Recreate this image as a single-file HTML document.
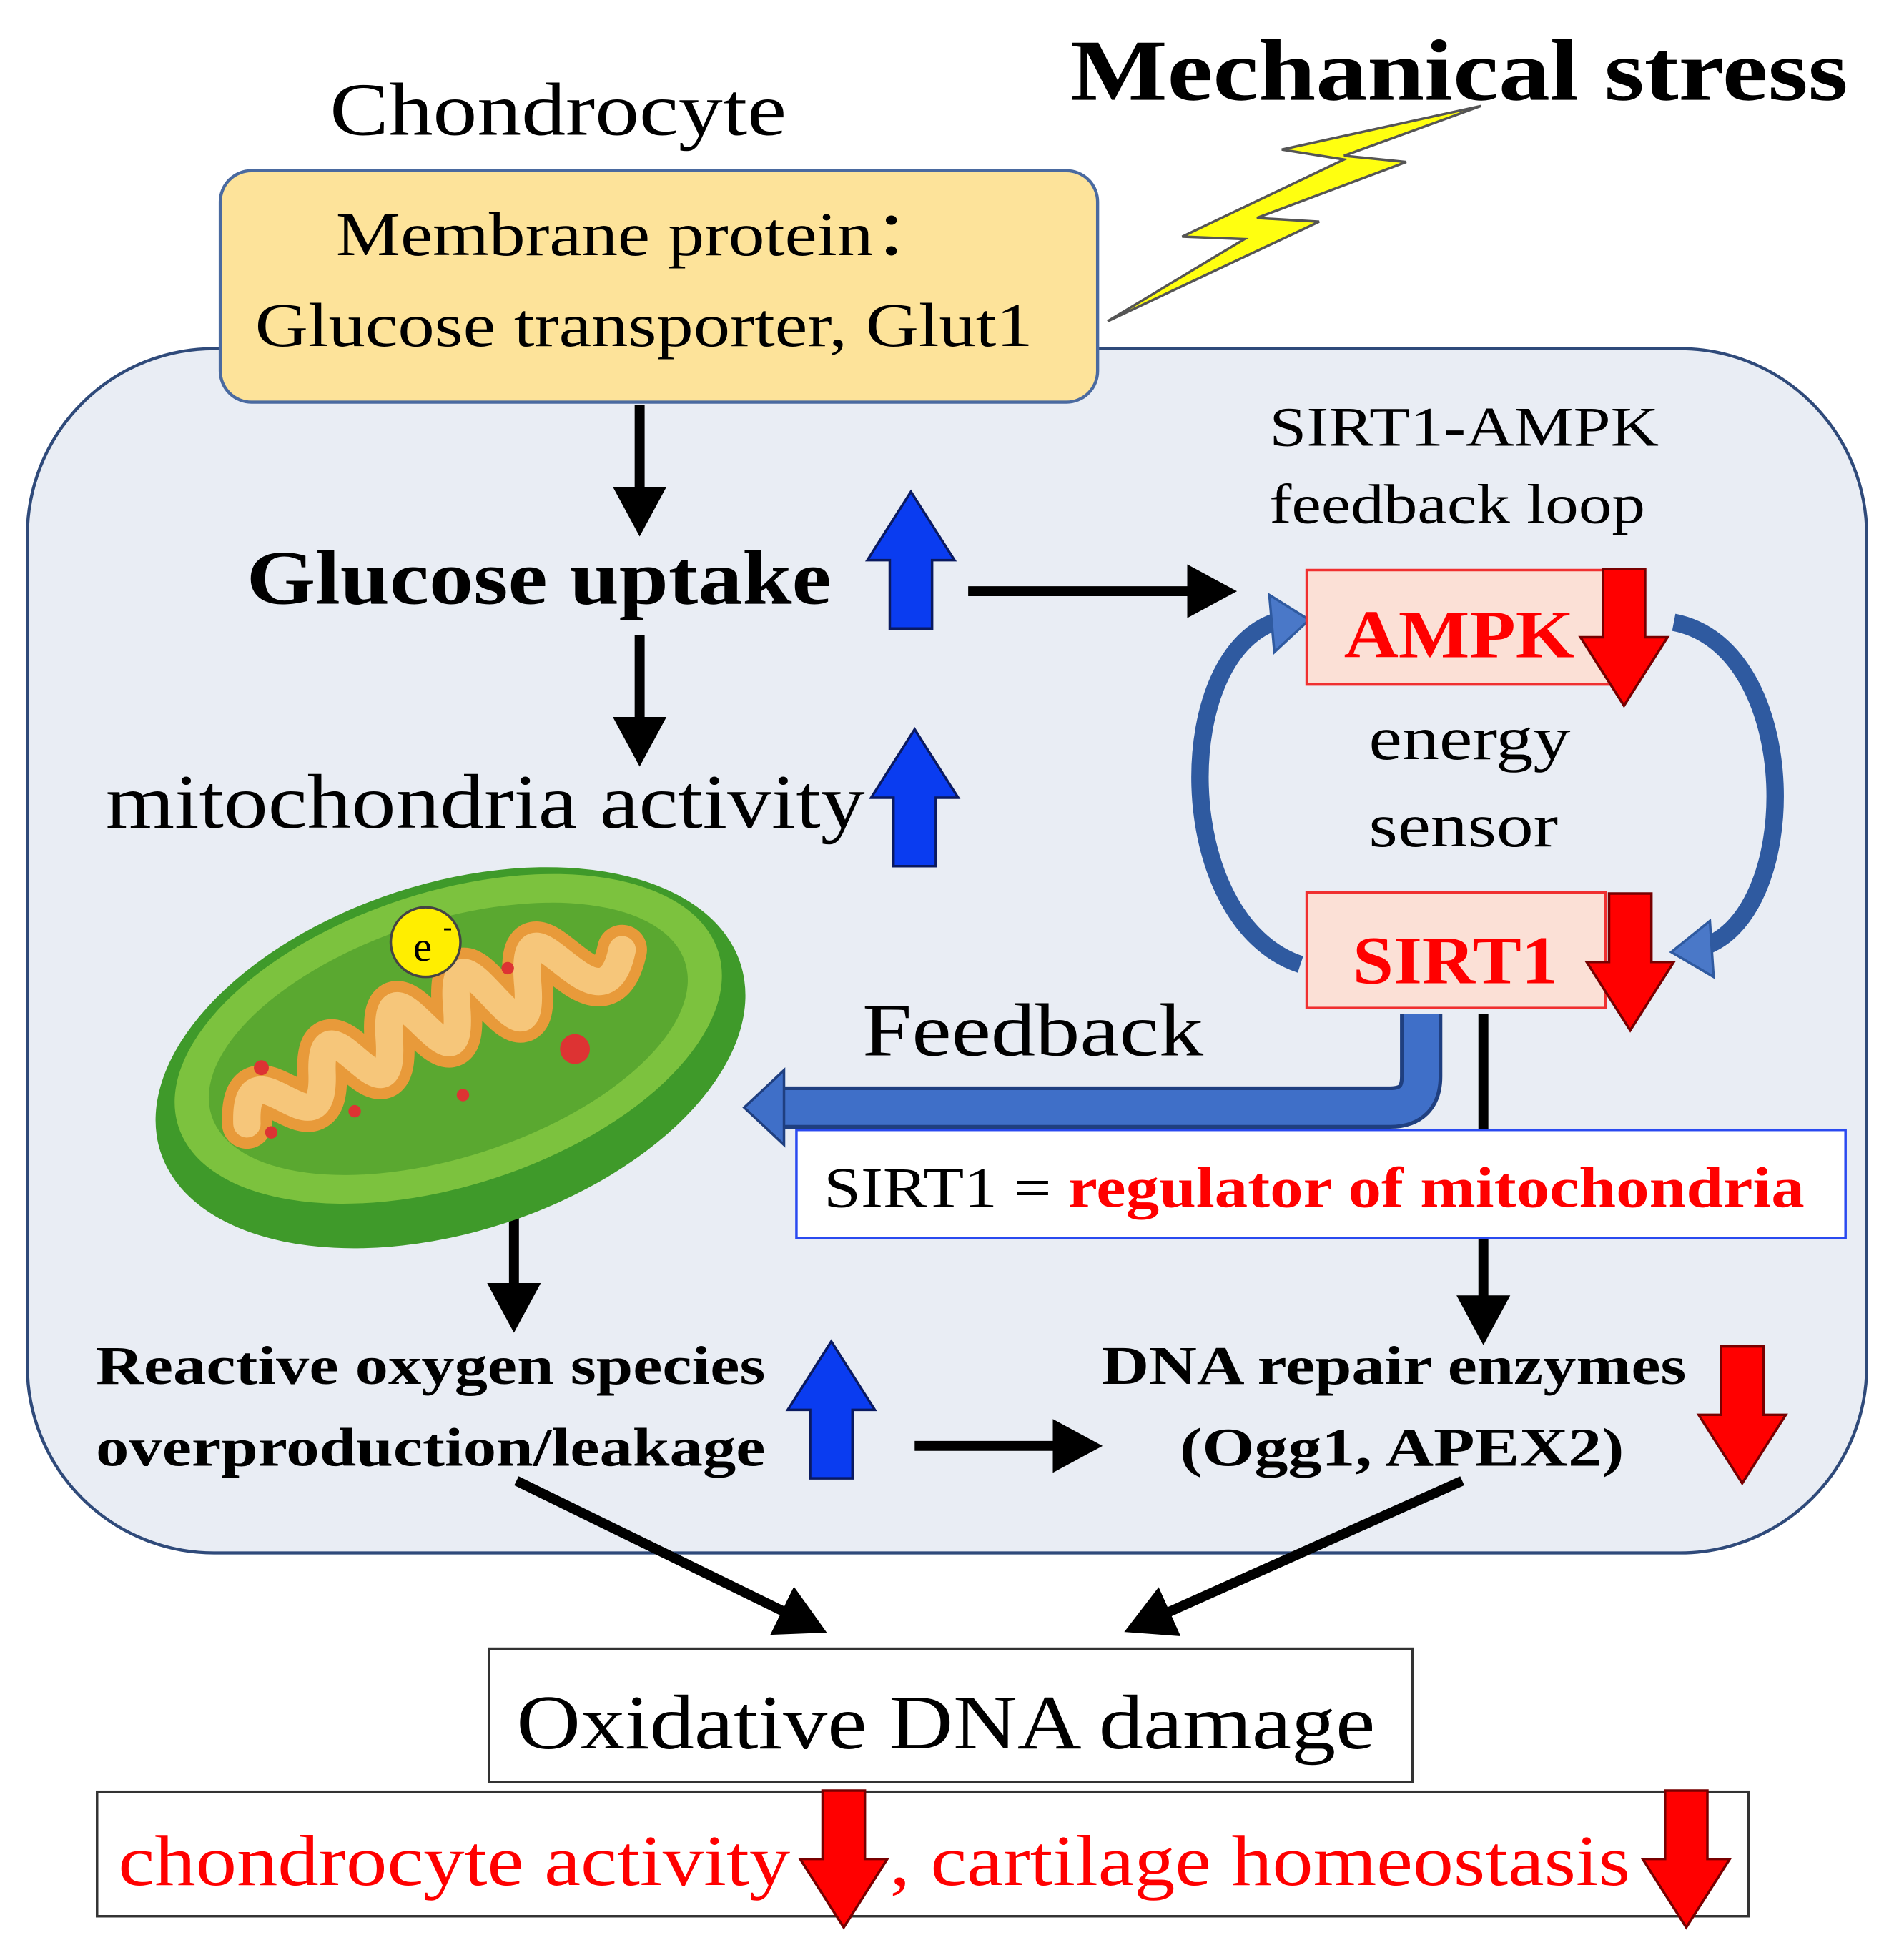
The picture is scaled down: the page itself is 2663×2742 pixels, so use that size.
<!DOCTYPE html>
<html><head><meta charset="utf-8"><style>html,body{margin:0;padding:0;background:#fff}svg{display:block}</style></head>
<body>
<svg width="2663" height="2742" viewBox="0 0 1530 1575" xmlns="http://www.w3.org/2000/svg" font-family="'Liberation Serif', serif">
<defs>
<marker id="ah" markerWidth="6" markerHeight="6" refX="3" refY="3" orient="auto" markerUnits="strokeWidth"><path d="M0,0.3 L5,3 L0,5.7 Z" fill="#000"/></marker>
<g id="bu"><path d="M-17,55 L-17,0 L-35,0 L0,-55 L35,0 L17,0 L17,55 Z" fill="#0a3cf0" stroke="#0a1a60" stroke-width="2"/></g>
<g id="rd"><path d="M-17,-55 L-17,0 L-35,0 L0,55 L35,0 L17,0 L17,-55 Z" fill="#f00" stroke="#700" stroke-width="2"/></g>
</defs>
<rect x="22" y="280" width="1478" height="968" rx="150" fill="#e9edf4" stroke="#2f4a7a" stroke-width="2.5"/>
<text x="265" y="108" font-size="60" textLength="367" lengthAdjust="spacingAndGlyphs">Chondrocyte</text>
<text x="860" y="80" font-size="70" font-weight="bold" textLength="625" lengthAdjust="spacingAndGlyphs">Mechanical stress</text>
<polygon points="1190,85 1030,120 1080,128 950,190 1000,192 890,258 1060,178 1010,175 1130,130 1080,125" fill="#ffff10" stroke="#555" stroke-width="2"/>
<rect x="177" y="137" width="705" height="186" rx="25" fill="#fde39a" stroke="#4a6aa0" stroke-width="2.5"/>
<text x="270" y="205" font-size="50" textLength="490" lengthAdjust="spacingAndGlyphs">Membrane protein：</text>
<text x="205" y="278" font-size="50" textLength="625" lengthAdjust="spacingAndGlyphs">Glucose transporter, Glut1</text>
<g stroke="#000" stroke-width="8" fill="none" marker-end="url(#ah)">
<line x1="514" y1="325" x2="514" y2="415"/>
<line x1="514" y1="510" x2="514" y2="600"/>
<line x1="778" y1="475" x2="978" y2="475"/>
<line x1="1192" y1="815" x2="1192" y2="1065"/>
<line x1="413" y1="960" x2="413" y2="1055"/>
<line x1="735" y1="1162" x2="870" y2="1162"/>
<line x1="415" y1="1190" x2="650" y2="1305"/>
<line x1="1175" y1="1190" x2="918" y2="1305"/>
</g>
<text x="198" y="485" font-size="62" font-weight="bold" textLength="470" lengthAdjust="spacingAndGlyphs">Glucose uptake</text>
<use href="#bu" x="732" y="450"/>
<text x="1020" y="358" font-size="45" textLength="313" lengthAdjust="spacingAndGlyphs">SIRT1-AMPK</text>
<text x="1020" y="420" font-size="45" textLength="302" lengthAdjust="spacingAndGlyphs">feedback loop</text>
<path d="M1045,775 C940,740 940,520 1030,498" fill="none" stroke="#2f5aa0" stroke-width="14"/>
<path d="M1020,478 L1052,498 L1024,524 Z" fill="#4a78c8" stroke="#2f5aa0" stroke-width="2"/>
<path d="M1345,500 C1450,520 1450,740 1365,762" fill="none" stroke="#2f5aa0" stroke-width="14"/>
<path d="M1374,740 L1343,765 L1377,785 Z" fill="#4a78c8" stroke="#2f5aa0" stroke-width="2"/>
<rect x="1050" y="458" width="250" height="92" fill="#fbe0d6" stroke="#f03030" stroke-width="2"/>
<text x="1080" y="528" font-size="55" font-weight="bold" fill="#f00" textLength="185" lengthAdjust="spacingAndGlyphs">AMPK</text>
<use href="#rd" x="1305" y="512"/>
<text x="1100" y="610" font-size="50" textLength="162" lengthAdjust="spacingAndGlyphs">energy</text>
<text x="1100" y="680" font-size="50" textLength="152" lengthAdjust="spacingAndGlyphs">sensor</text>
<rect x="1050" y="717" width="240" height="93" fill="#fbe0d6" stroke="#f03030" stroke-width="2"/>
<text x="1087" y="790" font-size="55" font-weight="bold" fill="#f00" textLength="165" lengthAdjust="spacingAndGlyphs">SIRT1</text>
<use href="#rd" x="1310" y="773"/>
<text x="85" y="665" font-size="62" textLength="610" lengthAdjust="spacingAndGlyphs">mitochondria activity</text>
<use href="#bu" x="735" y="641"/>
<g transform="rotate(-18 362 850)">
<ellipse cx="362" cy="850" rx="245" ry="140" fill="#3f9a2a"/>
<ellipse cx="365" cy="835" rx="228" ry="118" fill="#7cc23e"/>
<ellipse cx="365" cy="835" rx="200" ry="95" fill="#5aa830"/>
<path d="M190,850 C210,780 240,900 260,830 C280,760 300,900 320,820 C340,740 360,900 380,810 C400,730 420,900 440,810 C460,730 480,880 520,810" fill="none" stroke="#e89a3a" stroke-width="40" stroke-linecap="round"/>
<path d="M190,850 C210,780 240,900 260,830 C280,760 300,900 320,820 C340,740 360,900 380,810 C400,730 420,900 440,810 C460,730 480,880 520,810" fill="none" stroke="#f6c67a" stroke-width="22" stroke-linecap="round"/>
</g>
<circle cx="210" cy="858" r="6" fill="#d33"/><circle cx="285" cy="893" r="5" fill="#d33"/><circle cx="372" cy="880" r="5" fill="#d33"/><circle cx="408" cy="778" r="5" fill="#d33"/><circle cx="462" cy="843" r="12" fill="#d33"/><circle cx="218" cy="910" r="5" fill="#d33"/>
<circle cx="342" cy="757" r="28" fill="#ffee00" stroke="#444" stroke-width="2"/>
<text x="332" y="772" font-size="34">e</text><text x="356" y="752" font-size="22">-</text>
<text x="693" y="848" font-size="60" textLength="274" lengthAdjust="spacingAndGlyphs">Feedback</text>
<path d="M1142,815 L1142,865 Q1142,890 1117,890 L630,890" fill="none" stroke="#1f3f80" stroke-width="34"/>
<path d="M1142,815 L1142,865 Q1142,890 1117,890 L630,890" fill="none" stroke="#3f6fc8" stroke-width="28"/>
<path d="M630,860 L598,890 L630,920 Z" fill="#3f6fc8" stroke="#1f3f80" stroke-width="2"/>
<rect x="640" y="908" width="843" height="87" fill="#fff" stroke="#2a4af0" stroke-width="2"/>
<text x="662" y="970" font-size="46" textLength="788" lengthAdjust="spacingAndGlyphs">SIRT1 = <tspan fill="#f00" font-weight="bold">regulator of mitochondria</tspan></text>
<text x="77" y="1112" font-size="44" font-weight="bold" textLength="538" lengthAdjust="spacingAndGlyphs">Reactive oxygen species</text>
<text x="77" y="1178" font-size="44" font-weight="bold" textLength="538" lengthAdjust="spacingAndGlyphs">overproduction/leakage</text>
<use href="#bu" x="668" y="1133"/>
<text x="885" y="1112" font-size="44" font-weight="bold" textLength="470" lengthAdjust="spacingAndGlyphs">DNA repair enzymes</text>
<text x="948" y="1178" font-size="44" font-weight="bold" textLength="357" lengthAdjust="spacingAndGlyphs">(Ogg1, APEX2)</text>
<use href="#rd" x="1400" y="1137"/>
<rect x="393" y="1325" width="742" height="107" fill="#fff" stroke="#333" stroke-width="2"/>
<text x="415" y="1405" font-size="62" textLength="690" lengthAdjust="spacingAndGlyphs">Oxidative DNA damage</text>
<rect x="78" y="1440" width="1327" height="100" fill="#fff" stroke="#333" stroke-width="2"/>
<text x="95" y="1515" font-size="58" fill="#f00" textLength="540" lengthAdjust="spacingAndGlyphs">chondrocyte activity</text>
<use href="#rd" x="678" y="1494"/>
<text x="715" y="1515" font-size="58" fill="#f00" textLength="595" lengthAdjust="spacingAndGlyphs">, cartilage homeostasis</text>
<use href="#rd" x="1355" y="1494"/>
</svg>
</body></html>
